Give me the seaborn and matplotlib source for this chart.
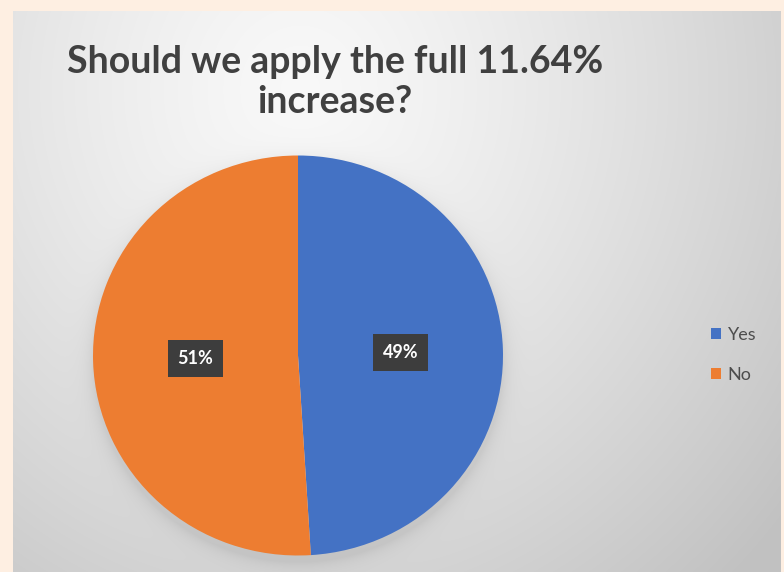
import numpy as np
import matplotlib
matplotlib.use("Agg")
import matplotlib.pyplot as plt
import seaborn as sns

# Survey answers
categories = ["Yes", "No"]
shares = [49, 51]
title_text = "Should we apply the full 11.64%\nincrease?"

sns.set_theme(style="white")
plt.rcParams["font.family"] = ["Lato", "DejaVu Sans"]
colors = sns.color_palette(["#4472C4", "#ED7D31"])

W, H = 784, 572
fig = plt.figure(figsize=(W / 100, H / 100), dpi=100, facecolor="#FEEFE2")


def frac_box(x0, y0, x1, y1):
    """Pixel box (top-left origin) to figure fraction rect."""
    return [x0 / W, 1 - y1 / H, (x1 - x0) / W, (y1 - y0) / H]


# Panel with soft radial gradient and a pie shadow
px0, py0, px1, py1 = 13, 11, 781, 572
bg = fig.add_axes(frac_box(px0, py0, px1, py1))
bg.set_axis_off()
xs = np.arange(px0, px1)
ys = np.arange(py0, py1)
X, Y = np.meshgrid(xs, ys)
d = np.sqrt(((X - 300) / 520.0) ** 2 + ((Y - 90) / 560.0) ** 2)
shade = 0.975 - 0.17 * np.clip(d, 0, 1.2) ** 1.3
cx, cy, rx, ry = 298, 355.5, 205, 200
r = np.sqrt(((X - cx) / rx) ** 2 + ((Y - cy - 6) / ry) ** 2)
shade -= 0.07 * np.exp(-np.clip(r - 1, 0, None) / 0.04) * (r > 0.9)
img = np.dstack([shade, shade, shade])
bg.imshow(np.clip(img, 0, 1), extent=(0, 1, 0, 1), aspect="auto", interpolation="bilinear")
for s in bg.spines.values():
    s.set_visible(True)
    s.set_edgecolor("white")
    s.set_linewidth(2)

# Pie chart: Yes starts at 12 o'clock going clockwise
ax = fig.add_axes(frac_box(cx - rx, cy - ry, cx + rx, cy + ry))
wedges, texts, autotexts = ax.pie(
    shares,
    labels=None,
    colors=colors,
    startangle=90,
    counterclock=False,
    autopct="%1.0f%%",
    pctdistance=0.5,
    wedgeprops=dict(linewidth=0),
    textprops=dict(color="white", fontsize=13, fontweight="bold"),
)
for t in autotexts:
    t.set_bbox(dict(boxstyle="square,pad=0.55", facecolor="#3d3d3d", edgecolor="none"))
ax.set_aspect("auto")
ax.set_xlim(-1, 1)
ax.set_ylim(-1, 1)
ax.set_axis_off()

# Title
fig.text(335 / W, 1 - 82 / H, title_text, ha="center", va="center",
         fontsize=27, fontweight="bold", color="#404040", linespacing=1.2)

# Legend
fig.legend(wedges, categories, loc="center left",
           bbox_to_anchor=(695 / W, 1 - 355 / H), frameon=False,
           fontsize=13, handlelength=0.55, handleheight=0.55,
           handletextpad=0.35, labelspacing=1.35, labelcolor="#4d4d4d")

fig.savefig("out.png", dpi=100, facecolor=fig.get_facecolor())
